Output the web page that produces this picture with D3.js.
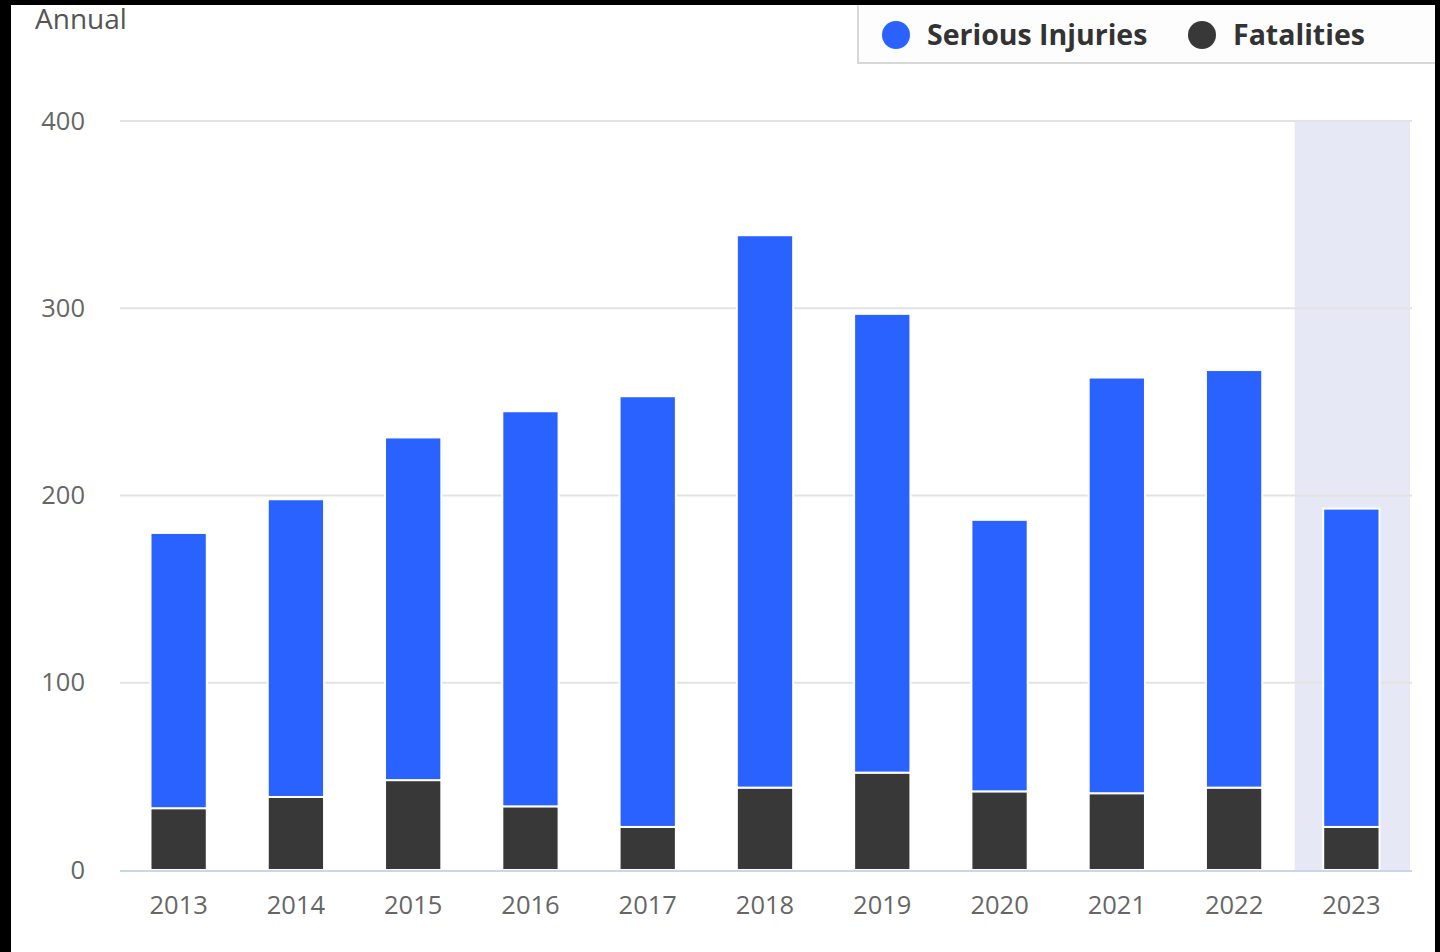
<!DOCTYPE html>
<html>
<head>
<meta charset="utf-8">
<script src="https://cdn.jsdelivr.net/npm/d3@7"></script>
<style>
html,body{margin:0;padding:0;background:#fff;}
svg{display:block;font-family:"Open Sans",sans-serif;}
</style>
</head>
<body>
<svg id="chart" width="1440" height="952"></svg>
<script>
const years = ["2013","2014","2015","2016","2017","2018","2019","2020","2021","2022","2023"];
const fatalities = [33, 39, 48, 34, 23, 44, 52, 42, 41, 44, 23];
const seriousInjuries = [147, 159, 183, 211, 230, 295, 245, 145, 222, 223, 170];
const yTicks = [0, 100, 200, 300, 400];
const seriesNames = ["Serious Injuries", "Fatalities"];
const seriesColors = ["#2962ff", "#383838"];
const highlightYear = "2023";

(function () {
const svg = d3.select("#chart");
const W = 1440, H = 952;
const pLeft = 120, pRight = 1410, pTop = 121, pBottom = 870;

const x = d3.scaleBand().domain(years).range([pLeft, pRight]).paddingInner(0.52).paddingOuter(0.26);
const xb = d3.scaleBand().domain(years).range([pLeft, pRight]).padding(0);
const y = d3.scaleLinear().domain([0, 400]).range([pBottom, pTop]);

svg.append("rect").attr("width", W).attr("height", H).attr("fill", "#fff");

// highlight band
svg.append("rect")
  .attr("x", xb(highlightYear) + 2).attr("y", pTop)
  .attr("width", xb.bandwidth() - 2).attr("height", pBottom - pTop)
  .attr("fill", "#e6e9f5");

// gridlines
svg.append("g").selectAll("line").data(yTicks.filter(d => d > 0)).join("line")
  .attr("x1", pLeft).attr("x2", pRight + 2)
  .attr("y1", d => y(d)).attr("y2", d => y(d))
  .attr("stroke", "#e3e3e3").attr("stroke-width", 2);

// y axis labels
const yAxis = d3.axisLeft(y).tickValues(yTicks).tickSize(0).tickPadding(0);
const gy = svg.append("g").attr("transform", "translate(85,0)").call(yAxis);
gy.select(".domain").remove();
gy.selectAll("text").attr("font-size", 25.5).attr("fill", "#666").attr("font-family", "Open Sans")
  .attr("dy", "0.32em");

// stacked bars
const rows = years.map((yr, i) => ({year: yr, "Fatalities": fatalities[i], "Serious Injuries": seriousInjuries[i]}));
const stack = d3.stack().keys(["Fatalities", "Serious Injuries"])(rows);
const colorOf = {"Serious Injuries": seriesColors[0], "Fatalities": seriesColors[1]};
svg.append("g").selectAll("g").data(stack).join("g")
  .attr("fill", d => colorOf[d.key])
  .selectAll("rect").data(d => d).join("rect")
  .attr("x", d => x(d.data.year))
  .attr("y", d => y(d[1]))
  .attr("width", x.bandwidth())
  .attr("height", d => y(d[0]) - y(d[1]))
  .attr("stroke", "#fff").attr("stroke-width", 2);

// x axis baseline
svg.append("line").attr("x1", pLeft).attr("x2", pRight + 2).attr("y1", pBottom + 1).attr("y2", pBottom + 1)
  .attr("stroke", "#ccd6eb").attr("stroke-width", 2);

const xAxis = d3.axisBottom(xb).tickSize(0).tickPadding(0);
const gx = svg.append("g").attr("transform", `translate(0,${pBottom})`).call(xAxis);
gx.select(".domain").remove();
gx.selectAll("text").attr("font-size", 25.5).attr("fill", "#666").attr("font-family", "Open Sans")
  .attr("dy", null).attr("y", 44);

// title
svg.append("text").attr("x", 35).attr("y", 29).attr("font-size", 28).attr("fill", "#555").text("Annual");

// legend box
svg.append("rect").attr("x", 858).attr("y", -2).attr("width", 600).attr("height", 65)
  .attr("fill", "#fdfdfd").attr("stroke", "#d8d8d8").attr("stroke-width", 2);
const legendX = [896, 1202];
const lg = svg.append("g").selectAll("g").data(seriesNames).join("g")
  .attr("transform", (d, i) => `translate(${legendX[i]},35)`);
lg.append("circle").attr("r", 14).attr("fill", (d, i) => seriesColors[i]);
lg.append("text").attr("x", 31).attr("y", 10).attr("font-size", 28.5).attr("font-weight", "bold")
  .attr("fill", "#333").text(d => d);

// black frame edges
svg.append("rect").attr("x", 0).attr("y", 0).attr("width", W).attr("height", 5).attr("fill", "#000");
svg.append("rect").attr("x", 0).attr("y", 0).attr("width", 11).attr("height", H).attr("fill", "#000");
svg.append("rect").attr("x", 1435).attr("y", 0).attr("width", 5).attr("height", H).attr("fill", "#000");
})();
</script>
</body>
</html>
